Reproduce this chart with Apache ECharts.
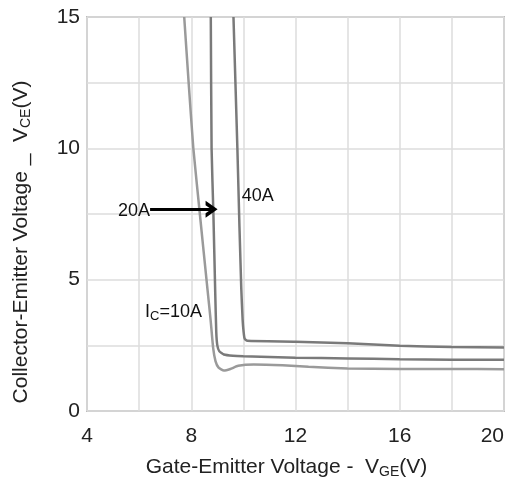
<!DOCTYPE html>
<html>
<head>
<meta charset="utf-8">
<script src="https://cdn.jsdelivr.net/npm/echarts@6/dist/echarts.min.js"></script>
<style>html,body{margin:0;padding:0;background:#fff}#c{width:516px;height:482px}</style>
</head>
<body>
<div id="c"></div>
<script>
// Ic = 10A
var vge10 = [7.73, 7.90, 8.08, 8.33, 8.62, 8.74, 8.84, 8.93, 9.05, 9.25, 9.5, 9.8, 10.4, 11.5, 12.5, 14, 16, 18, 20];
var vce10 = [15, 12.5, 10, 7.5, 4.66, 3.5, 2.4, 1.9, 1.65, 1.54, 1.6, 1.72, 1.77, 1.74, 1.68, 1.62, 1.6, 1.6, 1.59];
// Ic = 20A
var vge20 = [8.75, 8.78, 8.85, 8.92, 8.96, 9.0, 9.08, 9.25, 9.6, 10, 12, 14, 16, 18, 20];
var vce20 = [15, 10, 7.5, 4.5, 3.0, 2.5, 2.27, 2.15, 2.1, 2.08, 2.03, 2.0, 1.97, 1.95, 1.95];
// Ic = 40A
var vge40 = [9.62, 9.77, 9.85, 9.92, 9.97, 10.01, 10.05, 10.15, 12, 14, 16, 18, 20];
var vce40 = [15, 10, 7, 4.66, 3.5, 3.0, 2.75, 2.67, 2.64, 2.58, 2.48, 2.44, 2.42];
var xTicks = [4, 8, 12, 16, 20];
var yTicks = [0, 5, 10, 15];

function pairs(xs, ys) { return xs.map(function (x, i) { return [x, ys[i]]; }); }

var FONT = 'Liberation Sans';
var chart = echarts.init(document.getElementById('c'), null, {renderer: 'canvas'});
var subRich = {
  sub: {fontSize: 14, color: '#222', fontFamily: FONT, padding: [9, 0, 0, 0]}
};
var lblRich = {
  base: {fontSize: 18, color: '#111', fontFamily: FONT},
  sub: {fontSize: 13, color: '#111', fontFamily: FONT, padding: [7, 0, 0, 0]}
};
function lbl(text) {
  return {show: true, position: 'inside', formatter: text, fontSize: 18, fontFamily: FONT, color: '#111', rich: lblRich};
}
function lineSeries(name, xs, ys, color) {
  return {
    type: 'line', name: name, data: pairs(xs, ys), showSymbol: false, smooth: 0.15,
    lineStyle: {color: color, width: 2.5}, silent: true, animation: false, z: 3
  };
}
var s10 = lineSeries('10A', vge10, vce10, '#9a9a9a');
var s20 = lineSeries('20A', vge20, vce20, '#7a7a7a');
var s40 = lineSeries('40A', vge40, vce40, '#7a7a7a');
s20.markLine = {
  silent: true, animation: false,
  symbol: ['none', 'path://M0,10 L5,0 L10,10 L7.4,10 L5,5.2 L2.6,10 Z'],
  symbolSize: [17, 12],
  lineStyle: {color: '#000', width: 3, type: 'solid'},
  label: {show: false},
  data: [[{coord: [6.42, 7.68]}, {coord: [8.78, 7.68]}]]
};
s20.markPoint = {
  silent: true, animation: false, symbol: 'circle', symbolSize: 0,
  data: [
    {coord: [5.8, 7.6], label: lbl('{base|20A}')},
    {coord: [10.55, 8.2], label: lbl('{base|40A}')},
    {coord: [7.32, 3.75], label: lbl('{base|I}{sub|C}{base|=10A}')}
  ]
};
chart.setOption({
  animation: false,
  backgroundColor: '#fff',
  grid: {left: 87, right: 12, top: 17, bottom: 71, outerBoundsMode: 'none', containLabel: false,
    show: true, borderColor: '#bdbdbd', borderWidth: 2},
  xAxis: {
    type: 'value', min: 4, max: 20, interval: 2,
    axisLine: {show: false}, axisTick: {show: false},
    splitLine: {show: true, lineStyle: {color: '#dcdcdc', width: 1.5}},
    axisLabel: {
      fontSize: 21, color: '#222', fontFamily: FONT, margin: 15, alignMaxLabel: 'right',
      formatter: function (v) { return xTicks.indexOf(v) >= 0 ? String(v) : ''; }
    },
    name: 'Gate-Emitter Voltage -  V{sub|GE}(V)',
    nameLocation: 'middle', nameGap: 45,
    nameTextStyle: {fontSize: 21, fontFamily: FONT, color: '#222', rich: subRich, padding: [0, 18, 0, 0]}
  },
  yAxis: {
    type: 'value', min: 0, max: 15, interval: 2.5,
    axisLine: {show: false}, axisTick: {show: false},
    splitLine: {show: true, lineStyle: {color: '#dcdcdc', width: 1.5}},
    axisLabel: {
      fontSize: 21, color: '#222', fontFamily: FONT, margin: 7,
      formatter: function (v) { return yTicks.indexOf(v) >= 0 ? String(v) : ''; }
    },
    name: 'Collector-Emitter Voltage _  V{sub|CE}(V)',
    nameLocation: 'middle', nameGap: 54, nameRotate: 90,
    nameTextStyle: {fontSize: 21, fontFamily: FONT, color: '#222', rich: subRich, padding: [0, 56, 0, 0]}
  },
  series: [s10, s20, s40]
});
</script>
</body>
</html>
